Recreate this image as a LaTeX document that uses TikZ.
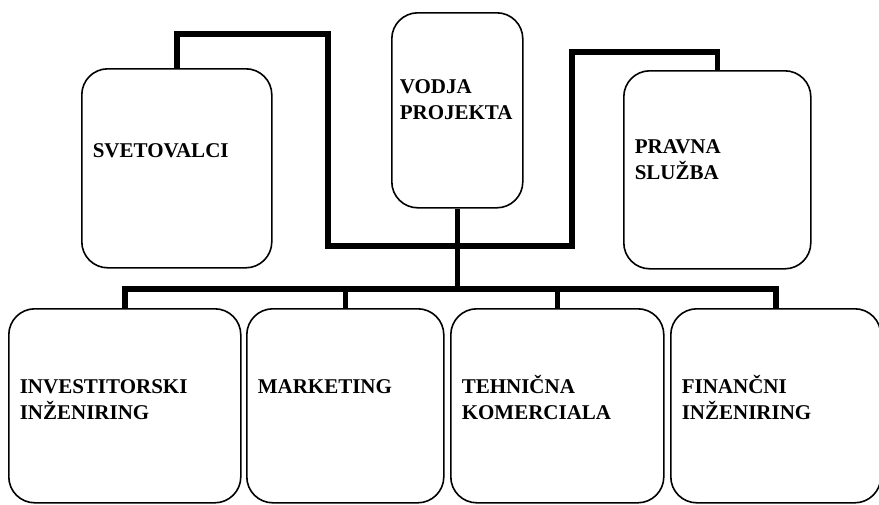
\documentclass[tikz,border=0pt]{standalone}
\usepackage{fontspec}
\setmainfont{Liberation Serif}

\begin{document}
\begin{tikzpicture}[x=1pt, y=-1pt,
    enota/.style={draw, rectangle, line width=1.6pt, rounded corners=26pt, anchor=north west, minimum height=194pt, align=left, inner xsep=11pt, text height=14pt, text depth=38pt, font=\fontsize{21}{26}\selectfont\bfseries},
    povezava/.style={line width=5.5pt}]
    \useasboundingbox (0,0) rectangle (879,504);

    \draw
    % zgornja vrsta
    (81,68)node[enota, minimum height=199pt, text width=168pt, text depth=35pt](svetovalci){SVETOVALCI}
    (391,12)node[enota, inner xsep=8pt, minimum height=195pt, text width=115pt, text depth=47pt](vodja){VODJA\\PROJEKTA}
    (623,70)node[enota, minimum height=198pt, text width=165pt, text depth=46pt](pravna){PRAVNA\\SLUŽBA}

    % spodnja vrsta
    (8,308)node[enota, text width=210pt](investitorski){INVESTITORSKI\\INŽENIRING}
    (246,308)node[enota, text width=175pt](marketing){MARKETING}
    (450,308)node[enota, text width=191pt](tehnicna){TEHNIČNA\\KOMERCIALA}
    (670,308)node[enota, text width=188pt](financni){FINANČNI\\INŽENIRING}
    ;

    \coordinate (stik) at (vodja.south |- 0,246);
    \coordinate (vodilo) at (vodja.south |- 0,289);

    \draw[povezava] (svetovalci.north) -- ++(0,-34) -| (328,246) -- (stik);
    \draw[povezava] (pravna.north) -- ++(0,-18) -| (572,246) -- (stik);
    \draw[povezava] (vodja.south) -- (vodilo);
    \draw[povezava] (investitorski.north) |- (vodilo) -| (financni.north);
    \draw[povezava] (marketing.north) -- (marketing.north |- vodilo);
    \draw[povezava] (tehnicna.north) -- (tehnicna.north |- vodilo);
\end{tikzpicture}
\end{document}
